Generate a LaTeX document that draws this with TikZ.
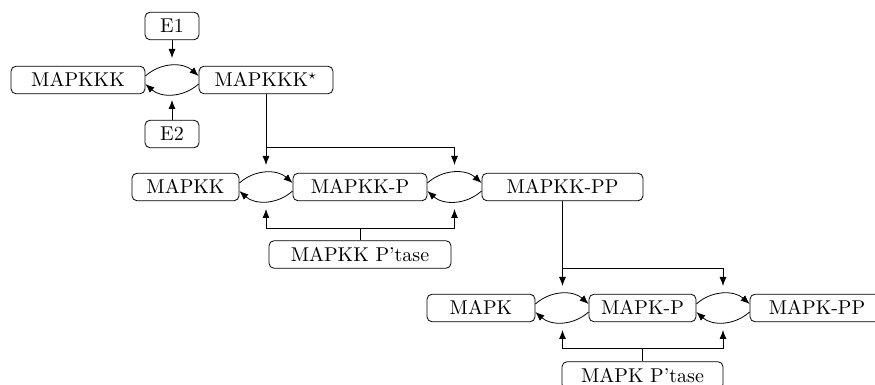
\documentclass[tikz,border=0pt]{standalone}
\usetikzlibrary{arrows.meta}
\begin{document}
\begin{tikzpicture}[x=0.5pt,y=-0.5pt,
  box/.style={draw, rounded corners=2.5pt, minimum height=13.75pt, inner sep=0pt, text height=6.9pt, text depth=0.2pt},
  >={Latex[length=4.5pt,width=3.5pt]}]
\useasboundingbox (0,0) rectangle (875,385);
\clip (0,0) rectangle (875,385);
% row 1
\node[box, minimum width=27pt] (e1) at (172,26) {E1};
\node[box, minimum width=27pt] (e2) at (172,134) {E2};
\node[box, minimum width=67pt] (k3) at (78,80) {MAPKKK};
\node[box, minimum width=67pt] (k3s) at (266,80) {MAPKKK$^\star$};
% row 2
\node[box, minimum width=53.5pt] (k2) at (185.5,187) {MAPKK};
\node[box, minimum width=67pt] (k2p) at (360,187) {MAPKK-P};
\node[box, minimum width=80.5pt] (k2pp) at (562.5,187) {MAPKK-PP};
\node[box, minimum width=91pt] (k2t) at (360,254.5) {MAPKK P'tase};
% row 3
\node[box, minimum width=54pt] (k1) at (481,308) {MAPK};
\node[box, minimum width=53.5pt] (k1p) at (642.5,308) {MAPK-P};
\node[box, minimum width=67pt] (k1pp) at (817,308) {MAPK-PP};
\node[box, minimum width=80.5pt] (k1t) at (642.5,375.5) {MAPK P'tase};
% coordinates
\coordinate (t1) at (172,58);
\coordinate (b1) at (172,100);
\coordinate (t21) at (266,165);
\coordinate (t22) at (454.5,165);
\coordinate (j2) at (266,147);
\coordinate (b21) at (266,209);
\coordinate (b22) at (454.5,209);
\coordinate (h2) at (360,228);
\coordinate (t31) at (562.5,286);
\coordinate (t32) at (723,286);
\coordinate (j3) at (562.5,268);
\coordinate (b31) at (562.5,330);
\coordinate (b32) at (723,330);
\coordinate (h3) at (642.5,348);
% row 1 connectors
\draw[->] ([yshift=2pt]k3.east) to[bend left=42] ([yshift=2pt]k3s.west);
\draw[->] ([yshift=-2pt]k3s.west) to[bend left=42] ([yshift=-2pt]k3.east);
\draw[->] (e1.south) -- (t1);
\draw[->] (e2.north) -- (b1);
% row 2 connectors
\draw[->] ([yshift=2pt]k2.east) to[bend left=42] ([yshift=2pt]k2p.west);
\draw[->] ([yshift=-2pt]k2p.west) to[bend left=42] ([yshift=-2pt]k2.east);
\draw[->] ([yshift=2pt]k2p.east) to[bend left=42] ([yshift=2pt]k2pp.west);
\draw[->] ([yshift=-2pt]k2pp.west) to[bend left=42] ([yshift=-2pt]k2p.east);
\draw[->] (k3s.south) -- (t21);
\draw[->] (j2) -| (t22);
\draw (k2t.north) -- (h2);
\draw[->] (h2) -| (b21);
\draw[->] (h2) -| (b22);
% row 3 connectors
\draw[->] ([yshift=2pt]k1.east) to[bend left=42] ([yshift=2pt]k1p.west);
\draw[->] ([yshift=-2pt]k1p.west) to[bend left=42] ([yshift=-2pt]k1.east);
\draw[->] ([yshift=2pt]k1p.east) to[bend left=42] ([yshift=2pt]k1pp.west);
\draw[->] ([yshift=-2pt]k1pp.west) to[bend left=42] ([yshift=-2pt]k1p.east);
\draw[->] (k2pp.south) -- (t31);
\draw[->] (j3) -| (t32);
\draw (k1t.north) -- (h3);
\draw[->] (h3) -| (b31);
\draw[->] (h3) -| (b32);
\end{tikzpicture}
\end{document}
